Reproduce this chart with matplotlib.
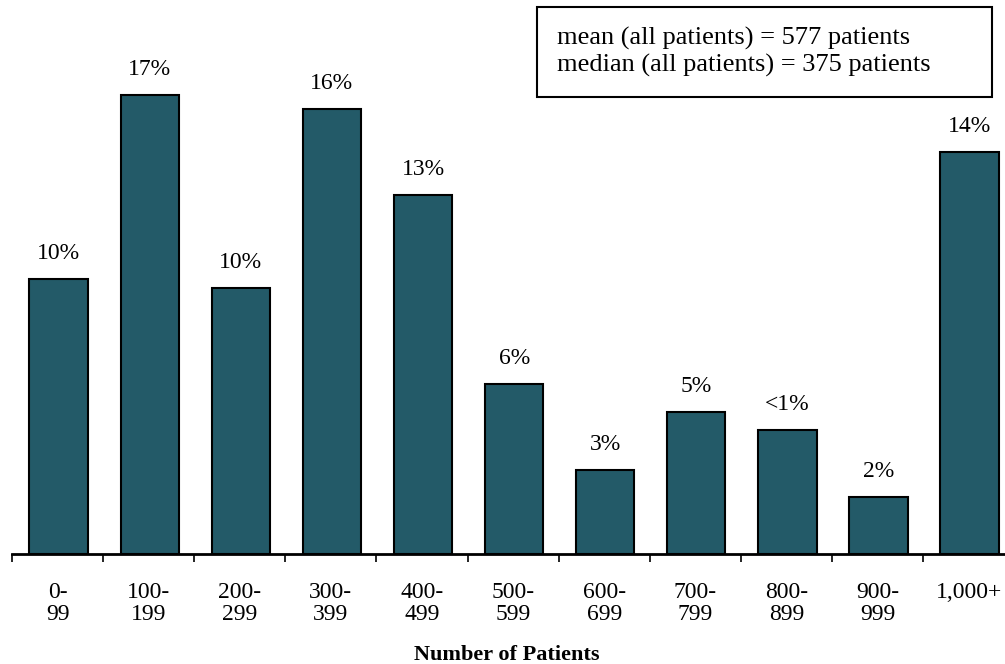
import numpy as np
import matplotlib
matplotlib.use("Agg")
import matplotlib.pyplot as plt

plt.rcParams["font.family"] = ["Liberation Serif", "DejaVu Serif"]

# Values (bar heights, %) and the printed labels
categories = ["0-\n99", "100-\n199", "200-\n299", "300-\n399", "400-\n499",
              "500-\n599", "600-\n699", "700-\n799", "800-\n899", "900-\n999",
              "1,000+\n"]
heights = [10.2, 17.0, 9.84, 16.5, 13.3, 6.3, 3.1, 5.25, 4.6, 2.1, 14.9]
labels = ["10%", "17%", "10%", "16%", "13%", "6%", "3%", "5%", "<1%", "2%", "14%"]

BAR_COLOR = "#235a68"

fig = plt.figure(figsize=(10.05, 6.64), dpi=100)
ax = fig.add_axes([12 / 1005, 110 / 664, 993 / 1005, 554 / 664])

x = np.arange(len(categories))
ax.bar(x + 0.012, heights, width=0.64, color=BAR_COLOR, edgecolor="black",
       linewidth=1.5)

for xi, h, lab in zip(x, heights, labels):
    ax.text(xi + 0.012, h + 0.55, lab, ha="center", va="bottom", fontsize=17)

ax.set_xlim(-0.5, -0.5 + 993 / 91.1)
ax.set_ylim(0, 554 / 27)

for side in ("top", "right", "left"):
    ax.spines[side].set_visible(False)
ax.spines["bottom"].set_linewidth(2)
ax.set_yticks([])

ax.set_xticks(x)
ax.set_xticklabels(categories, fontsize=17, linespacing=1.07)
ax.tick_params(axis="x", which="major", length=0, pad=20)
ax.set_xticks(np.arange(-0.5, len(categories) - 0.5, 1.0), minor=True)
ax.tick_params(axis="x", which="minor", length=6, width=1.2)

fig.text(507 / 1005, 1 - 655 / 664, "Number of Patients",
         ha="center", va="center", fontsize=16, fontweight="bold")

fig.text(557 / 1005, 1 - 52 / 664,
         "mean (all patients) = 577 patients\nmedian (all patients) = 375 patients",
         ha="left", va="center", fontsize=19, linespacing=1.25)
box = plt.Rectangle((537 / 1005, 1 - 97 / 664), 455 / 1005, 90 / 664,
                    transform=fig.transFigure, fill=False, edgecolor="black",
                    linewidth=1.5)
fig.patches.append(box)

fig.savefig("out.png", dpi=100)
